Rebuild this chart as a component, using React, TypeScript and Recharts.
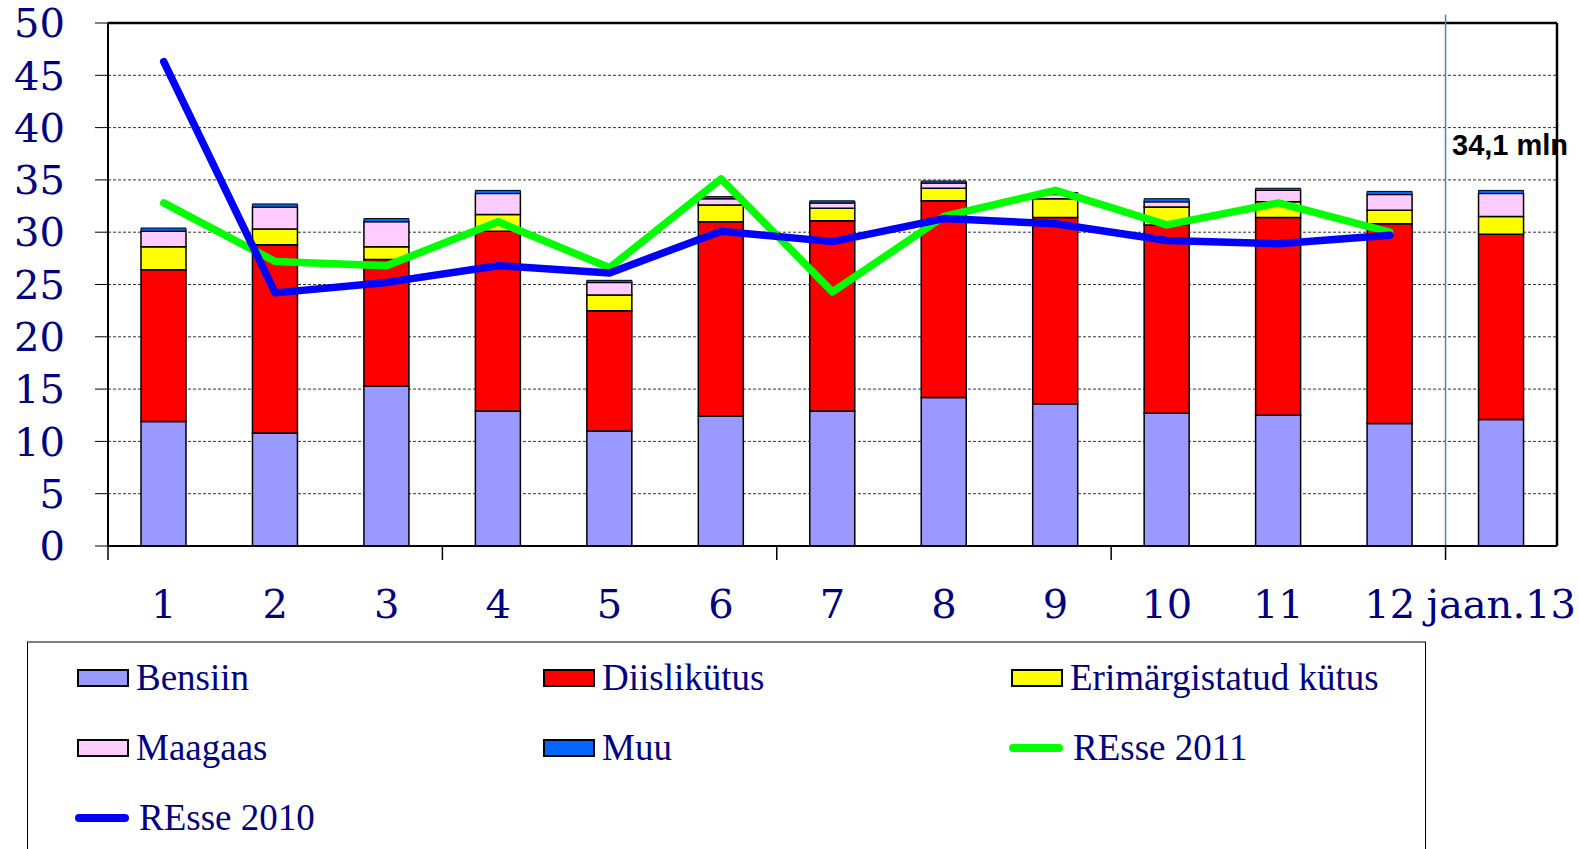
import React from 'react';
import {
    ComposedChart, Bar, Line, XAxis, YAxis, CartesianGrid, ReferenceLine
} from 'recharts';

// Data (mln)
const CATEGORIES = ['1', '2', '3', '4', '5', '6', '7', '8', '9', '10', '11', '12', 'jaan.13'];
const BENSIIN = [11.9, 10.8, 15.3, 12.9, 11.0, 12.4, 12.9, 14.2, 13.6, 12.7, 12.5, 11.7, 12.1];
const DIISLIKYTUS = [14.5, 18.0, 12.1, 17.2, 11.5, 18.6, 18.2, 18.8, 17.8, 18.0, 18.9, 19.1, 17.7];
const ERIMARGISTATUD = [2.2, 1.5, 1.2, 1.6, 1.5, 1.6, 1.2, 1.2, 1.8, 1.7, 1.5, 1.3, 1.7];
const MAAGAAS = [1.5, 2.1, 2.4, 2.0, 1.2, 0.6, 0.5, 0.5, 0.4, 0.5, 1.1, 1.5, 2.2];
const MUU = [0.3, 0.3, 0.3, 0.3, 0.2, 0.2, 0.2, 0.2, 0.2, 0.3, 0.2, 0.3, 0.3];
const RESSE_2010 = [46.3, 24.2, 25.2, 26.8, 26.1, 30.1, 29.1, 31.3, 30.8, 29.2, 28.9, 29.7, null];
const RESSE_2011 = [32.8, 27.2, 26.8, 31.0, 26.6, 35.1, 24.3, 31.5, 34.0, 30.7, 32.8, 30.0, null];

const Y_TICKS = [0, 5, 10, 15, 20, 25, 30, 35, 40, 45, 50];
const ANNOTATION = '34,1 mln';

const DATA = CATEGORIES.map((cat, i) => ({
    cat,
    bensiin: BENSIIN[i],
    diisel: DIISLIKYTUS[i],
    erim: ERIMARGISTATUD[i],
    maagaas: MAAGAAS[i],
    muu: MUU[i],
    r2010: RESSE_2010[i],
    r2011: RESSE_2011[i],
}));

const AXIS_FONT = '"DejaVu Serif", "Liberation Serif", serif';
const LEGEND_FONT = '"Liberation Serif", "DejaVu Serif", serif';
const NAVY = '#000080';
const LAST = CATEGORIES[CATEGORIES.length - 1];

const LEGEND = [
    { name: 'Bensiin', color: '#9999FF', type: 'box' },
    { name: 'Diislikütus', color: '#FF0000', type: 'box' },
    { name: 'Erimärgistatud kütus', color: '#FFFF00', type: 'box' },
    { name: 'Maagaas', color: '#FFCCFF', type: 'box' },
    { name: 'Muu', color: '#0066FF', type: 'box' },
    { name: 'REsse 2011', color: '#00FF00', type: 'line' },
    { name: 'REsse 2010', color: '#0000FF', type: 'line' },
];

// category label + a tick mark on the left edge of every third category
const BottomTick = (props: any) => {
    const { x, y, payload } = props;
    const idx = CATEGORIES.indexOf(payload.value);
    const half = payload.offset || 0;
    return (
        <g>
            {idx % 3 === 0 && (
                <line x1={x - half} x2={x - half} y1={y} y2={y + 14} stroke="#000" strokeWidth={1.5} />
            )}
            <text x={x} y={y + 72} textAnchor="middle" fill={NAVY} fontSize={40} fontFamily={AXIS_FONT}>
                {payload.value}
            </text>
        </g>
    );
};

const App = () => {
    return (
        <div style={{ position: 'absolute', left: 0, top: 0, width: 1579, height: 849, overflow: 'hidden', background: '#fff' }}>
            <ComposedChart width={1579} height={640} data={DATA} margin={{ top: 23, right: 22, left: 0, bottom: 4 }}>
                <CartesianGrid vertical={false} stroke="#333" strokeDasharray="3 2" strokeWidth={1} />
                <XAxis
                    dataKey="cat"
                    interval={0}
                    height={90}
                    tickSize={0}
                    tickMargin={0}
                    tickLine={false}
                    tick={<BottomTick />}
                    axisLine={{ stroke: '#000', strokeWidth: 2 }}
                />
                <YAxis
                    domain={[0, 50]}
                    ticks={Y_TICKS}
                    interval={0}
                    width={108}
                    tickSize={13}
                    tickMargin={30}
                    tickLine={{ stroke: '#000', strokeWidth: 1 }}
                    axisLine={{ stroke: '#000', strokeWidth: 2 }}
                    tick={{ fill: NAVY, fontSize: 40, fontFamily: AXIS_FONT }}
                />
                <Bar dataKey="bensiin" stackId="a" fill="#9999FF" stroke="#000" strokeWidth={1.5} barSize={45} isAnimationActive={false} />
                <Bar dataKey="diisel" stackId="a" fill="#FF0000" stroke="#000" strokeWidth={1.5} barSize={45} isAnimationActive={false} />
                <Bar dataKey="erim" stackId="a" fill="#FFFF00" stroke="#000" strokeWidth={1.5} barSize={45} isAnimationActive={false} />
                <Bar dataKey="maagaas" stackId="a" fill="#FFCCFF" stroke="#000" strokeWidth={1.5} barSize={45} isAnimationActive={false} />
                <Bar dataKey="muu" stackId="a" fill="#0066FF" stroke="#000" strokeWidth={1} barSize={45} isAnimationActive={false} />
                {/* plot frame: top and right borders */}
                <ReferenceLine y={50} stroke="#000" strokeWidth={2.5} />
                <ReferenceLine x={LAST} position="end" stroke="#000" strokeWidth={2.5} ifOverflow="visible" />
                <ReferenceLine
                    segment={[{ x: LAST, y: 0 }, { x: LAST, y: 50.8 }]}
                    position="start"
                    stroke="#4F81BD"
                    strokeWidth={1.5}
                    ifOverflow="visible"
                />
                <Line type="linear" dataKey="r2011" stroke="#00FF00" strokeWidth={7.5} dot={false} strokeLinecap="round" strokeLinejoin="round" isAnimationActive={false} />
                <Line type="linear" dataKey="r2010" stroke="#0000FF" strokeWidth={7.5} dot={false} strokeLinecap="round" strokeLinejoin="round" isAnimationActive={false} />
            </ComposedChart>

            <div style={{ position: 'absolute', left: 1452, top: 131, fontSize: 29, lineHeight: '29px', fontWeight: 'bold', fontFamily: '"Liberation Sans", Arial, sans-serif', color: '#000', whiteSpace: 'nowrap' }}>
                {ANNOTATION}
            </div>

            {/* Legend box */}
            <div style={{ position: 'absolute', left: 27, top: 641, width: 1399, height: 240, borderLeft: '1px solid #000', borderRight: '1px solid #000', borderTop: '2px solid #808080', boxSizing: 'border-box' }}>
                <div style={{ display: 'grid', gridTemplateColumns: '466px 468px 1fr', gridAutoRows: '70px', paddingLeft: 49 }}>
                    {LEGEND.map((item) => (
                        <div key={item.name} style={{ display: 'flex', alignItems: 'center', height: 70 }}>
                            {item.type === 'box' ? (
                                <div style={{ width: 48, height: 14, background: item.color, border: '2px solid #000', marginRight: 7 }} />
                            ) : (
                                <div style={{ width: 54, height: 8, background: item.color, borderRadius: 4, marginRight: 10, marginLeft: -2 }} />
                            )}
                            <span style={{ fontFamily: LEGEND_FONT, fontSize: 37, color: NAVY, lineHeight: '40px' }}>{item.name}</span>
                        </div>
                    ))}
                </div>
            </div>
        </div>
    );
};

export default App;
